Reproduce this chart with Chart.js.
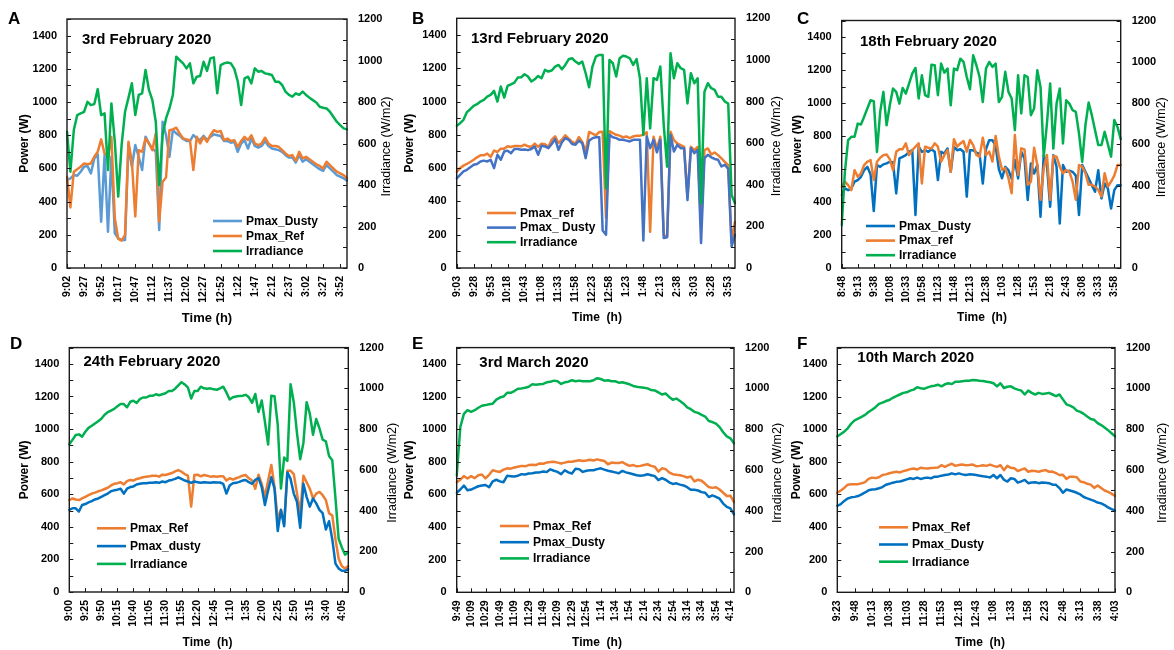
<!DOCTYPE html>
<html><head><meta charset="utf-8">
<script src="https://cdn.jsdelivr.net/npm/chart.js@4.4.0/dist/chart.umd.min.js"></script>
<style>
html,body{margin:0;padding:0;background:#fff;}
#wrap{position:relative;width:1174px;height:650px;overflow:hidden;background:#fff;}
#wrap canvas{position:absolute;}
</style></head><body><div id="wrap"></div>
<script>
// ---------- Panel A : 3rd February 2020 ----------
const ticksA = ['9:02','9:27','9:52','10:17','10:47','11:12','11:37','12:02','12:27','12:52','1:22','1:47','2:12','2:37','3:02','3:27','3:52'];
const dustyA = [530,540,560,556,580,610,614,570,660,685,279,680,219,670,209,179,169,169,741,610,741,670,590,791,751,721,701,229,881,801,670,831,811,797,777,765,765,801,781,771,797,771,790,805,800,795,765,765,755,760,700,750,770,720,780,735,725,735,765,735,720,715,710,700,680,665,665,635,680,640,655,640,625,610,595,585,620,600,580,560,550,540,525];
const refA = [550,365,580,595,610,630,625,630,670,700,775,690,675,790,300,175,165,200,760,640,310,710,700,780,750,710,810,280,520,545,830,835,845,810,780,775,770,590,790,750,790,760,800,830,820,825,770,780,765,770,730,765,790,770,800,750,740,750,785,750,735,735,730,710,690,675,680,645,700,660,670,655,640,625,615,600,640,620,600,580,570,560,540];
const irrA = [657,464,665,737,745,753,801,785,790,862,737,745,472,793,609,344,593,753,820,890,737,834,842,954,858,809,705,400,641,721,769,834,1018,1002,986,962,986,890,922,925,994,950,1010,1015,842,978,986,990,986,960,900,785,914,922,890,962,946,949,938,935,930,898,898,882,850,834,826,842,834,850,834,821,809,798,777,772,769,753,729,705,689,673,668];

// ---------- Panel B : 13rd February 2020 ----------
const ticksB = ['9:03','9:28','9:53','10:18','10:43','11:08','11:33','11:58','12:23','12:58','1:23','1:48','2:13','2:38','3:03','3:28','3:53'];
const refB = [578,600,615,625,637,650,665,677,677,687,667,705,697,717,717,731,727,733,733,731,741,731,727,747,727,747,743,727,771,791,751,771,797,777,757,747,787,757,697,817,807,797,817,818,300,822,810,800,795,785,790,780,790,795,795,800,815,218,788,718,788,198,190,818,768,748,738,728,428,728,708,728,238,708,718,682,694,678,658,638,618,158,278];
const dustyB = [538,560,580,590,605,620,625,640,645,640,650,600,680,650,700,705,690,715,715,710,712,708,715,730,680,735,730,720,745,775,710,755,780,770,745,740,765,750,660,765,780,785,785,225,200,800,785,780,770,770,765,760,770,770,770,165,790,720,770,695,770,180,185,800,700,740,720,720,408,720,690,710,150,660,680,665,655,650,610,620,595,130,200];
const irrB = [683,696,712,749,763,779,787,800,808,824,832,851,800,872,819,875,883,891,915,917,931,920,896,907,923,912,952,944,949,968,976,955,976,1003,1008,992,981,992,936,869,968,1016,1024,1024,383,1000,984,920,1008,1020,1016,1008,976,1004,912,639,912,671,912,904,968,687,487,1032,912,984,960,952,791,936,888,912,311,847,888,864,856,823,823,800,790,351,311];

// ---------- Panel C : 18th February 2020 ----------
const ticksC = ['8:48','9:13','9:38','10:08','10:33','10:58','11:23','11:48','12:13','12:38','1:03','1:28','1:53','2:18','2:43','3:08','3:33','3:58'];
const dustyC = [442,482,472,482,523,533,553,593,613,567,345,624,613,628,634,644,640,452,664,674,684,704,714,321,735,704,714,704,720,705,533,704,694,724,583,735,714,720,704,432,714,714,700,690,512,720,775,775,740,600,544,613,593,540,654,543,704,664,412,634,573,624,311,684,624,371,684,613,270,624,583,590,583,560,321,624,583,543,502,462,593,422,512,482,361,472,502,502];
const refC = [492,523,502,472,593,553,573,624,644,654,533,644,668,684,688,660,593,704,720,720,755,684,714,735,755,512,735,729,724,755,735,644,684,714,583,781,735,755,769,705,776,745,685,675,790,685,705,645,800,675,595,605,544,453,806,564,725,719,504,524,729,624,413,604,685,413,679,675,614,574,594,584,524,413,624,614,574,504,504,494,473,433,574,494,524,560,624,624];
const irrC = [208,466,620,636,636,700,696,733,773,813,809,563,757,854,692,789,870,854,797,873,846,894,943,970,822,934,838,830,986,983,838,991,947,967,789,967,959,1015,999,926,867,1031,983,926,805,967,999,975,991,805,830,951,854,822,668,934,749,934,926,741,773,959,878,540,700,894,579,797,870,604,813,797,765,757,652,515,692,802,741,668,596,596,660,600,540,717,684,625];

// ---------- Panel D : 24th February 2020 ----------
const ticksD = ['9:00','9:25','9:50','10:15','10:40','11:05','11:30','11:55','12:20','12:45','1:10','1:35','2:00','2:25','2:50','3:15','3:40','4:05'];
const refD = [564,574,568,564,574,584,594,604,610,618,624,632,640,654,664,668,674,660,680,688,684,694,698,704,708,710,714,714,708,720,718,724,730,740,748,738,724,714,524,718,720,710,718,714,708,710,708,710,710,684,698,690,698,705,714,718,698,684,634,720,664,584,684,780,644,444,504,414,744,744,724,604,484,714,674,634,574,604,614,594,564,484,470,324,204,158,144,160];
const dustyD = [504,514,514,494,534,540,550,558,568,574,584,594,604,618,624,628,634,604,634,644,648,660,664,668,668,670,670,674,670,678,674,684,688,694,704,694,684,678,670,678,674,670,674,672,670,674,672,672,664,604,654,668,670,676,684,688,674,664,688,700,644,534,624,704,634,374,504,404,734,694,604,554,394,664,584,524,574,544,504,484,384,434,324,174,144,130,130,140];
const irrD = [726,747,771,774,763,787,806,816,827,838,851,870,883,891,899,912,923,923,907,934,939,928,947,955,955,963,963,971,966,971,976,987,987,998,1014,1030,1019,1003,950,987,987,1008,1000,998,1000,995,993,1000,1008,980,945,956,960,962,964,968,956,929,972,884,940,836,724,964,961,820,508,660,644,1020,932,780,652,732,932,876,772,849,804,748,740,668,647,460,260,219,183,195];

// ---------- Panel E : 3rd March 2020 ----------
const ticksE = ['9:49','10:09','10:29','10:49','11:09','11:29','11:49','12:09','12:29','12:54','1:14','1:34','1:54','2:14','2:34','2:54','3:14','3:34','3:54','4:14'];
const refE = [674,690,712,698,712,700,718,722,698,720,748,742,738,752,760,758,765,770,775,772,780,782,780,790,788,795,798,800,795,790,795,800,800,805,810,805,808,812,808,815,810,805,785,795,792,793,798,785,775,780,772,775,780,785,775,770,740,760,755,735,724,720,718,712,704,710,680,690,684,665,645,640,644,630,610,590,592,552];
const dustyE = [610,630,654,625,630,640,650,655,658,644,680,690,680,675,714,712,710,715,724,722,728,730,734,735,740,738,754,745,738,724,748,735,728,758,755,738,745,748,748,755,760,752,745,740,735,730,744,735,730,724,718,714,718,724,718,712,688,700,690,674,664,668,660,655,644,628,628,624,614,610,584,594,585,574,544,524,514,478];
const irrE = [571,810,875,893,885,893,905,915,918,922,925,945,955,960,978,978,987,998,1000,1003,1008,1020,1018,1020,1022,1030,1032,1038,1035,1022,1030,1033,1040,1035,1038,1035,1035,1035,1040,1050,1046,1038,1040,1035,1035,1028,1030,1025,1020,1012,1008,1005,1003,1000,992,990,980,970,975,958,944,950,938,925,907,898,885,880,870,862,840,835,827,810,785,765,755,731];

// ---------- Panel F : 10th March 2020 ----------
const ticksF = ['9:23','9:48','10:13','10:38','11:03','11:28','11:53','12:18','12:43','1:08','1:33','1:58','2:23','2:48','3:13','3:38','4:03'];
const refF = [610,624,640,660,662,663,663,668,675,695,703,700,705,719,723,730,735,739,735,743,748,755,759,753,763,760,759,762,763,765,779,769,779,788,775,780,783,779,780,783,773,775,779,775,783,775,769,779,749,775,763,760,743,752,759,739,745,743,739,745,749,739,740,730,719,720,695,709,709,705,679,675,665,660,640,655,640,624,615,605,590];
const dustyF = [530,540,560,575,582,585,590,600,612,625,630,632,638,645,659,665,672,677,679,685,692,699,695,703,695,700,703,699,709,709,715,719,722,729,723,729,723,719,723,722,719,715,711,709,703,719,699,719,690,679,699,695,672,680,689,669,673,675,669,673,671,669,660,659,639,610,630,624,618,610,600,584,576,568,560,550,545,535,520,510,500];
const irrF = [764,776,788,804,827,843,852,860,870,884,895,908,924,930,938,943,954,962,970,978,981,989,994,1006,1001,998,1005,1010,1013,1018,1010,1020,1025,1021,1033,1033,1035,1037,1037,1041,1040,1037,1036,1033,1030,1025,1010,1025,1002,1008,1010,1000,994,989,970,989,978,970,978,973,975,978,970,962,970,946,922,915,907,891,885,875,862,850,846,830,820,808,795,780,765];

const ORANGE = '#ED7D31', GREEN = '#00B050';
const FONT = '"Liberation Sans", Arial, Helvetica, sans-serif';

const panels = [
  { id:'A', title:'3rd February 2020', ticks:ticksA, step:5, xTitle:'Time (h)', xTitleSize:13,
    series:[{label:'Pmax_Dusty', data:dustyA, color:'#5B9BD5'}, {label:'Pmax_Ref', data:refA, color:ORANGE}, {label:'Irradiance', data:irrA, color:GREEN, right:true}],
    canvas:{x:0,y:0,w:395,h:330}, plot:{l:67,r:347,t:19,b:268},
    letter:{x:8,y:24}, titlePos:{x:82,y:40}, xT:{x:207,y:318}, yT:{x:25}, yR:{x:387},
    legend:{x:213,y:221,dy:15} },
  { id:'B', title:'13rd February 2020', ticks:ticksB, step:5, xTitle:'Time  (h)', xTitleSize:12,
    series:[{label:'Pmax_ref', data:refB, color:ORANGE}, {label:'Pmax_ Dusty', data:dustyB, color:'#4472C4'}, {label:'Irradiance', data:irrB, color:GREEN, right:true}],
    canvas:{x:395,y:0,w:390,h:330}, plot:{l:456.7,r:735,t:18.3,b:268},
    letter:{x:412,y:23.5}, titlePos:{x:471,y:38.5}, xT:{x:597,y:318}, yT:{x:410}, yR:{x:777},
    legend:{x:487,y:213,dy:14.6} },
  { id:'C', title:'18th February 2020', ticks:ticksC, step:5, xTitle:'Time  (h)', xTitleSize:12,
    series:[{label:'Pmax_Dusty', data:dustyC, color:'#0070C0'}, {label:'Pmax_ref', data:refC, color:ORANGE}, {label:'Irradiance', data:irrC, color:GREEN, right:true}],
    canvas:{x:785,y:0,w:389,h:330}, plot:{l:841.7,r:1120.7,t:20.5,b:268},
    letter:{x:797,y:23.5}, titlePos:{x:860,y:41.7}, xT:{x:982,y:318}, yT:{x:798}, yR:{x:1162},
    legend:{x:866,y:226,dy:14.6} },
  { id:'D', title:'24th February 2020', ticks:ticksD, step:5, xTitle:'Time  (h)', xTitleSize:12,
    series:[{label:'Pmax_Ref', data:refD, color:ORANGE}, {label:'Pmax_dusty', data:dustyD, color:'#0070C0'}, {label:'Irradiance', data:irrD, color:GREEN, right:true}],
    canvas:{x:0,y:330,w:400,h:320}, plot:{l:69.3,r:348.3,t:342.3,b:592},
    letter:{x:10,y:348.5}, titlePos:{x:83.5,y:361.7}, xT:{x:207.5,y:643}, yT:{x:25}, yR:{x:393},
    legend:{x:97,y:528.3,dy:17.8} },
  { id:'E', title:'3rd March 2020', ticks:ticksE, step:4, xTitle:'Time  (h)', xTitleSize:12,
    series:[{label:'Pmax_Ref', data:refE, color:ORANGE}, {label:'Pmax_Dusty', data:dustyE, color:'#0070C0'}, {label:'Irradiance', data:irrE, color:GREEN, right:true}],
    canvas:{x:400,y:330,w:387,h:320}, plot:{l:456.7,r:734,t:341.7,b:592.3},
    letter:{x:412,y:348.5}, titlePos:{x:479.3,y:363.3}, xT:{x:597,y:643}, yT:{x:410}, yR:{x:778},
    legend:{x:500,y:526,dy:16.2} },
  { id:'F', title:'10th March 2020', ticks:ticksF, step:5, xTitle:'Time  (h)', xTitleSize:12,
    series:[{label:'Pmax_Ref', data:refF, color:ORANGE}, {label:'Pmax_Dusty', data:dustyF, color:'#0070C0'}, {label:'Irradiance', data:irrF, color:GREEN, right:true}],
    canvas:{x:787,y:330,w:387,h:320}, plot:{l:837.3,r:1115,t:340,b:592.3},
    letter:{x:797,y:348.5}, titlePos:{x:857.3,y:358.3}, xT:{x:980,y:643}, yT:{x:797}, yR:{x:1163},
    legend:{x:879,y:527.3,dy:17.2} }
];

function makeDecor(p) {
  return {
    id: 'decor' + p.id,
    afterDraw(chart) {
      const ctx = chart.ctx, ca = chart.chartArea;
      const ox = p.canvas.x, oy = p.canvas.y;
      const ys = chart.scales.y, yr = chart.scales.y1, xs = chart.scales.x;
      ctx.save();
      ctx.strokeStyle = '#1a1a1a'; ctx.lineWidth = 1;
      ctx.beginPath();
      ys.ticks.forEach(t => { const py = Math.round(ys.getPixelForValue(t.value)) + 0.5; ctx.moveTo(ca.left, py); ctx.lineTo(ca.left + 4, py); });
      yr.ticks.forEach(t => { const py = Math.round(yr.getPixelForValue(t.value)) + 0.5; ctx.moveTo(ca.right, py); ctx.lineTo(ca.right - 4, py); });
      for (let i = 0; i < xs.ticks.length; i += p.step) {
        const px = Math.round(xs.getPixelForTick(i)) + 0.5;
        ctx.moveTo(px, ca.bottom); ctx.lineTo(px, ca.bottom - 4);
      }
      ctx.stroke();
      ctx.lineWidth = 1.4; ctx.strokeStyle = '#1a1a1a';
      ctx.strokeRect(ca.left, ca.top, ca.right - ca.left, ca.bottom - ca.top);
      ctx.fillStyle = '#000';
      ctx.textAlign = 'left'; ctx.textBaseline = 'alphabetic';
      ctx.font = 'bold 17px ' + FONT;
      ctx.fillText(p.id, p.letter.x - ox, p.letter.y - oy);
      ctx.textBaseline = 'middle';
      ctx.font = 'bold 15px ' + FONT;
      ctx.fillText(p.title, p.titlePos.x - ox, p.titlePos.y - oy);
      ctx.textAlign = 'center';
      ctx.font = 'bold ' + p.xTitleSize + 'px ' + FONT;
      ctx.fillText(p.xTitle, p.xT.x - ox, p.xT.y - oy);
      const midY = (ca.top + ca.bottom) / 2;
      ctx.save();
      ctx.translate(p.yT.x - ox, midY); ctx.rotate(-Math.PI / 2);
      ctx.font = 'bold 12px ' + FONT; ctx.fillText('Power (W)', 0, 0);
      ctx.restore();
      ctx.save();
      ctx.translate(p.yR.x - ox, midY + 3); ctx.rotate(-Math.PI / 2);
      ctx.font = '12.5px ' + FONT; ctx.fillText('Irradiance (W/m2)', 0, 0);
      ctx.restore();
      ctx.textAlign = 'left';
      ctx.font = 'bold 12px ' + FONT;
      p.series.forEach((s, k) => {
        const ly = p.legend.y + k * p.legend.dy - oy;
        const lx = p.legend.x - ox;
        ctx.strokeStyle = s.color; ctx.lineWidth = 2.6; ctx.lineCap = 'butt';
        ctx.beginPath(); ctx.moveTo(lx, ly); ctx.lineTo(lx + 29, ly); ctx.stroke();
        ctx.fillStyle = '#000';
        ctx.fillText(s.label, lx + 33, ly + 0.5);
      });
      ctx.restore();
    }
  };
}

const wrap = document.getElementById('wrap');
panels.forEach(p => {
  const cv = document.createElement('canvas');
  cv.width = p.canvas.w; cv.height = p.canvas.h;
  cv.style.left = p.canvas.x + 'px'; cv.style.top = p.canvas.y + 'px';
  cv.style.width = p.canvas.w + 'px'; cv.style.height = p.canvas.h + 'px';
  wrap.appendChild(cv);
  const N = p.series[0].data.length;
  const labels = Array.from({length: N}, (_, i) => (i % p.step === 0 && p.ticks[i / p.step] !== undefined) ? p.ticks[i / p.step] : '');
  const nS = p.series.length;
  const datasets = p.series.map((s, k) => ({
    label: s.label, data: s.data, borderColor: s.color, backgroundColor: s.color,
    borderWidth: 2.5, pointRadius: 0, tension: 0, fill: false,
    borderJoinStyle: 'round', borderCapStyle: 'round',
    yAxisID: s.right ? 'y1' : 'y', order: nS - k
  }));
  const leftW = p.plot.l - p.canvas.x;
  const rightW = p.canvas.x + p.canvas.w - p.plot.r;
  const bottomH = p.canvas.y + p.canvas.h - p.plot.b;
  const tickFont = {family: FONT, size: 11, weight: 'bold'};
  new Chart(cv, {
    type: 'line',
    data: { labels, datasets },
    options: {
      responsive: false, animation: false, devicePixelRatio: 1,
      layout: { padding: { top: p.plot.t - p.canvas.y, left: 0, right: 0, bottom: 0 } },
      plugins: { legend: {display: false}, tooltip: {enabled: false}, title: {display: false} },
      scales: {
        x: {
          type: 'category', offset: false,
          grid: {display: false, drawTicks: false}, border: {display: false},
          ticks: {autoSkip: false, maxRotation: 90, minRotation: 90, padding: 8, color: '#000',
                  font: {family: FONT, size: 10.5, weight: 'bold'}},
          afterFit: s => { s.height = bottomH; }
        },
        y: {
          position: 'left', min: 0, max: 1500,
          grid: {display: false, drawTicks: false}, border: {display: false},
          ticks: {stepSize: 100, autoSkip: false, padding: 10, color: '#000', font: tickFont,
                  callback: v => (v % 200 === 0 ? String(v) : '')},
          afterFit: s => { s.width = leftW; }
        },
        y1: {
          position: 'right', min: 0, max: 1200,
          grid: {display: false, drawTicks: false}, border: {display: false},
          ticks: {stepSize: 100, autoSkip: false, padding: 11, color: '#000', font: tickFont,
                  callback: v => (v % 200 === 0 ? String(v) : '')},
          afterFit: s => { s.width = rightW; }
        }
      }
    },
    plugins: [makeDecor(p)]
  });
});
</script>
</body></html>
